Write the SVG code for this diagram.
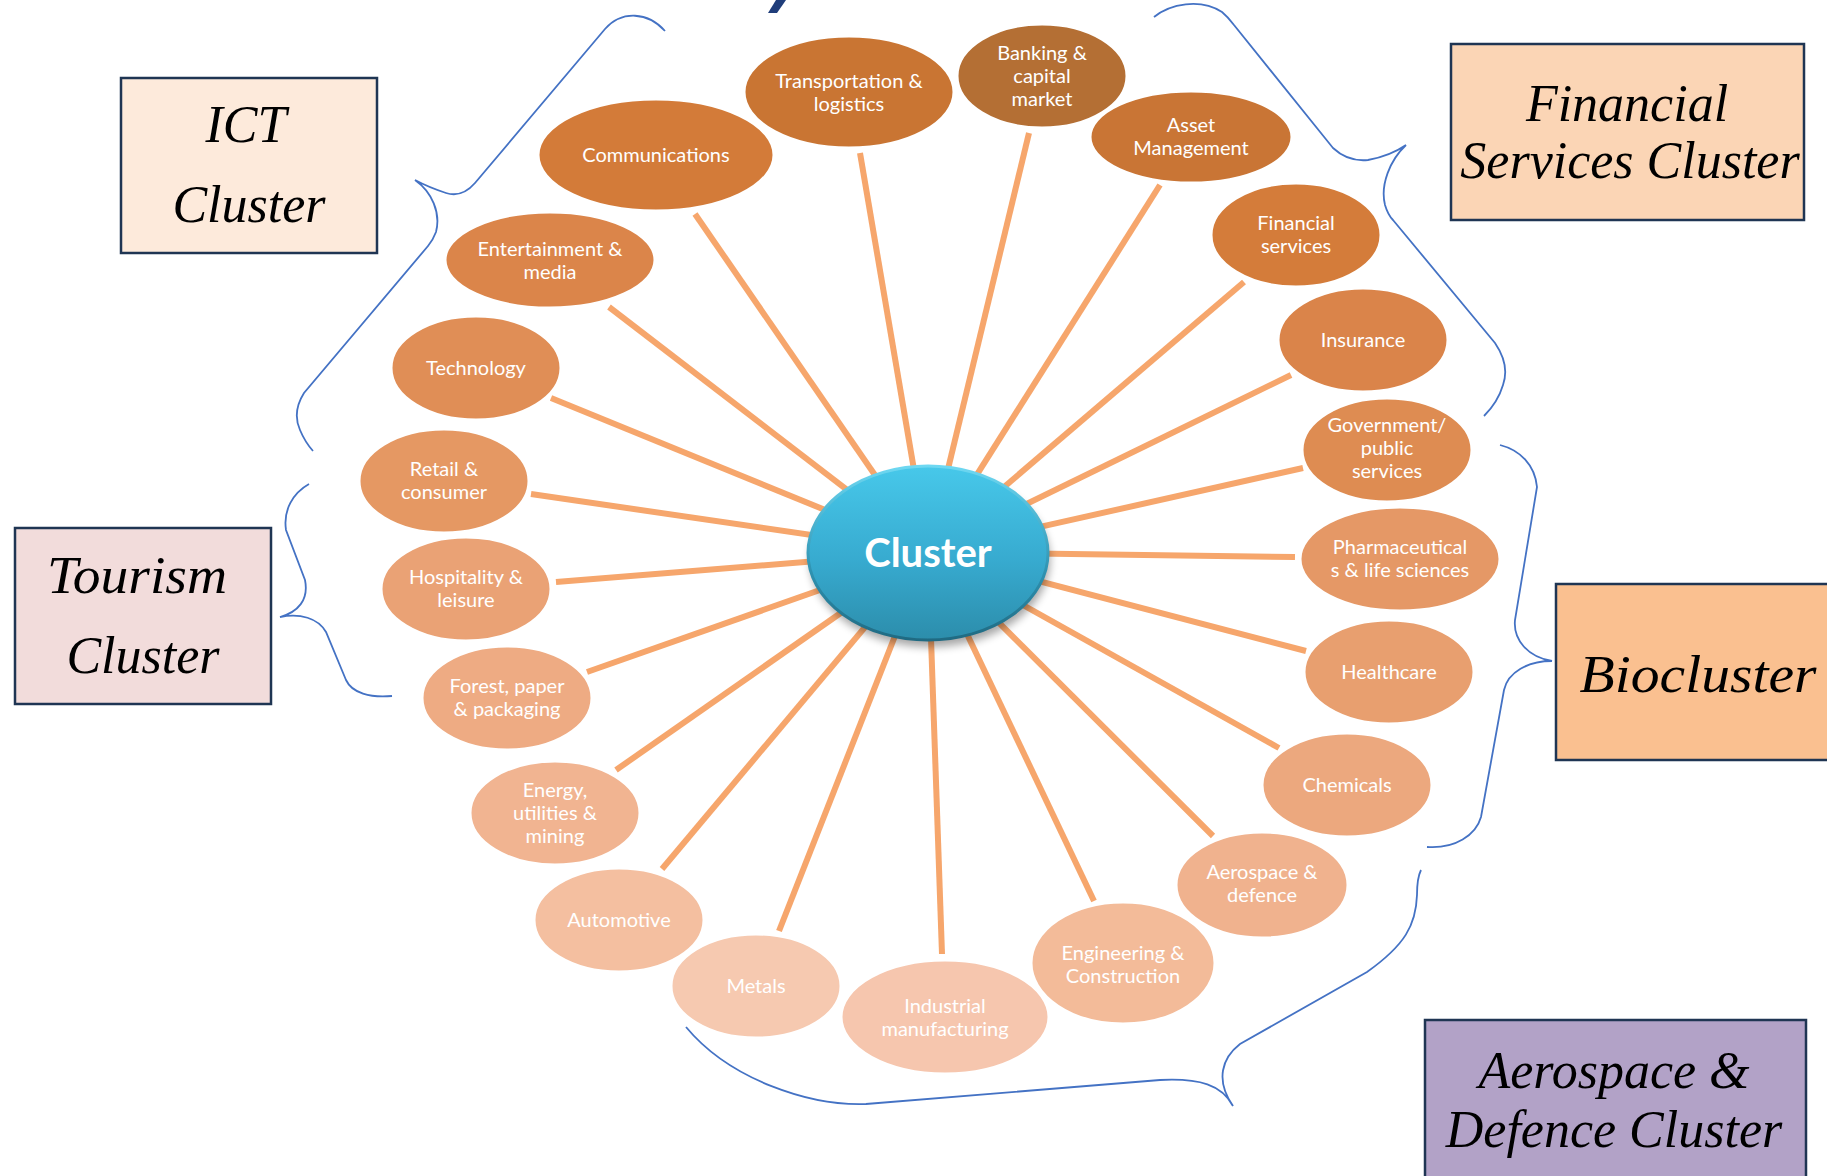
<svg xmlns="http://www.w3.org/2000/svg" width="1827" height="1176" viewBox="0 0 1827 1176">
<defs>
<style>
.lbl{font-family:Lato,"Open Sans","Liberation Sans",sans-serif;font-size:20px;fill:#ffffff;text-anchor:middle}
.node ellipse{stroke:#ffffff;stroke-width:3}
.conn{stroke:#F6A66C;stroke-width:6;stroke-linecap:butt;fill:none}
.brace{fill:none;stroke:#4472C4;stroke-width:1.8}
.box rect{stroke:#1F3553;stroke-width:2.5}
.bt{font-family:"Liberation Serif","Times New Roman",serif;font-style:italic;font-size:52px;fill:#000;text-anchor:middle}
</style>
<linearGradient id="hub" x1="0" y1="0" x2="0" y2="1">
<stop offset="0" stop-color="#47C8EA"/>
<stop offset="0.55" stop-color="#37AACF"/>
<stop offset="1" stop-color="#2C8DAB"/>
</linearGradient>
<linearGradient id="rim" x1="0" y1="0" x2="0" y2="1">
<stop offset="0" stop-color="#6ED8F2"/>
<stop offset="0.6" stop-color="#2F93B2"/>
<stop offset="1" stop-color="#1F6A82"/>
</linearGradient>
<filter id="sh" x="-20%" y="-20%" width="140%" height="150%">
<feGaussianBlur stdDeviation="4"/>
</filter>
</defs>
<rect width="1827" height="1176" fill="#ffffff"/>

<polygon points="768,13 777,13 786,0 776,0" fill="#1F3D7A"/>

<g id="braces">
<path class="brace" d="M 665 31 C 648 12 622 10 605 29 L 475 183 Q 462 198 446 193 Q 428 187 415 180 C 432 192 441 213 436 232 Q 433 240 428 246 L 304 393 Q 292 412 300 430 Q 305 442 313 451"/>
<path class="brace" d="M 1154 17 C 1170 4 1200 -2 1222 12 Q 1228 17 1234 25 L 1333 148 Q 1348 162 1368 160 Q 1390 156 1406 145 C 1390 160 1380 185 1385 205 Q 1388 215 1393 220 L 1495 343 Q 1510 365 1503 385 Q 1498 402 1484 416"/>
<path class="brace" d="M 309 484 C 293 493 283 510 286 530 L 305 580 C 309 600 298 612 280 617 C 300 613 318 618 326 632 L 346 680 C 352 693 370 698 392 696"/>
<path class="brace" d="M 1500 445 C 1520 450 1535 465 1537 487 L 1515 620 C 1513 640 1528 657 1552 661 C 1528 661 1508 672 1504 690 L 1481 817 C 1476 835 1455 849 1427 847"/>
<path class="brace" d="M 1421 870 Q 1417 878 1417 895 C 1416 925 1405 945 1367 972 L 1240 1044 C 1222 1058 1215 1080 1233 1106 C 1222 1085 1200 1078 1160 1080 L 866 1104 C 810 1106 730 1080 686 1027"/>
</g>

<g id="connectors">
<line class="conn" x1="928" y1="552" x2="695" y2="214"/>
<line class="conn" x1="928" y1="552" x2="860" y2="153"/>
<line class="conn" x1="928" y1="552" x2="1029" y2="133"/>
<line class="conn" x1="928" y1="552" x2="1160" y2="185"/>
<line class="conn" x1="928" y1="552" x2="1244" y2="282"/>
<line class="conn" x1="928" y1="552" x2="1291" y2="375"/>
<line class="conn" x1="928" y1="552" x2="1303" y2="468"/>
<line class="conn" x1="928" y1="552" x2="1295" y2="557"/>
<line class="conn" x1="928" y1="552" x2="1306" y2="651"/>
<line class="conn" x1="928" y1="552" x2="1279" y2="748"/>
<line class="conn" x1="928" y1="552" x2="1213" y2="836"/>
<line class="conn" x1="928" y1="552" x2="1094" y2="901"/>
<line class="conn" x1="928" y1="552" x2="942" y2="954"/>
<line class="conn" x1="928" y1="552" x2="779" y2="931"/>
<line class="conn" x1="928" y1="552" x2="662" y2="869"/>
<line class="conn" x1="928" y1="552" x2="616" y2="770"/>
<line class="conn" x1="928" y1="552" x2="587" y2="672"/>
<line class="conn" x1="928" y1="552" x2="556" y2="582"/>
<line class="conn" x1="928" y1="552" x2="531" y2="494"/>
<line class="conn" x1="928" y1="552" x2="551" y2="398"/>
<line class="conn" x1="928" y1="552" x2="609" y2="307"/>
</g>

<g id="hub">
<ellipse cx="930" cy="560" rx="120" ry="87" fill="#000" opacity="0.35" filter="url(#sh)"/>
<ellipse cx="928" cy="553" rx="120" ry="87" fill="url(#hub)" stroke="url(#rim)" stroke-width="3"/>
<text x="928" y="567" font-family="Lato,'Open Sans','Liberation Sans',sans-serif" font-weight="bold" font-size="40" fill="#ffffff" text-anchor="middle">Cluster</text>
</g>

<g id="n-communications" class="node"><ellipse cx="656" cy="155" rx="118" ry="56" fill="#D37B39"/><text class="lbl" x="656" y="162">Communications</text></g>
<g id="n-transportation" class="node"><ellipse cx="849" cy="92" rx="105" ry="56" fill="#C97533"/><text class="lbl" x="849" y="88">Transportation &amp;</text><text class="lbl" x="849" y="111">logistics</text></g>
<g id="n-banking" class="node"><ellipse cx="1042" cy="76" rx="85" ry="52" fill="#B46F34"/><text class="lbl" x="1042" y="60">Banking &amp;</text><text class="lbl" x="1042" y="83">capital</text><text class="lbl" x="1042" y="106">market</text></g>
<g id="n-asset" class="node"><ellipse cx="1191" cy="137" rx="101" ry="46" fill="#C97535"/><text class="lbl" x="1191" y="132">Asset</text><text class="lbl" x="1191" y="155">Management</text></g>
<g id="n-financial" class="node"><ellipse cx="1296" cy="235" rx="85" ry="52" fill="#D47C3A"/><text class="lbl" x="1296" y="230">Financial</text><text class="lbl" x="1296" y="253">services</text></g>
<g id="n-insurance" class="node"><ellipse cx="1363" cy="340" rx="85" ry="52" fill="#DA844A"/><text class="lbl" x="1363" y="347">Insurance</text></g>
<g id="n-government" class="node"><ellipse cx="1387" cy="450" rx="85" ry="52" fill="#DE8C52"/><text class="lbl" x="1387" y="432">Government/</text><text class="lbl" x="1387" y="455">public</text><text class="lbl" x="1387" y="478">services</text></g>
<g id="n-pharma" class="node"><ellipse cx="1400" cy="559" rx="100" ry="52" fill="#E59866"/><text class="lbl" x="1400" y="554">Pharmaceutical</text><text class="lbl" x="1400" y="577">s &amp; life sciences</text></g>
<g id="n-healthcare" class="node"><ellipse cx="1389" cy="672" rx="85" ry="52" fill="#E89F6F"/><text class="lbl" x="1389" y="679">Healthcare</text></g>
<g id="n-chemicals" class="node"><ellipse cx="1347" cy="785" rx="85" ry="52" fill="#ECA87E"/><text class="lbl" x="1347" y="792">Chemicals</text></g>
<g id="n-aerospace" class="node"><ellipse cx="1262" cy="885" rx="86" ry="53" fill="#F0B28E"/><text class="lbl" x="1262" y="879">Aerospace &amp;</text><text class="lbl" x="1262" y="902">defence</text></g>
<g id="n-engineering" class="node"><ellipse cx="1123" cy="963" rx="92" ry="61" fill="#F3BB99"/><text class="lbl" x="1123" y="960">Engineering &amp;</text><text class="lbl" x="1123" y="983">Construction</text></g>
<g id="n-industrial" class="node"><ellipse cx="945" cy="1017" rx="104" ry="57" fill="#F6C6AE"/><text class="lbl" x="945" y="1013">Industrial</text><text class="lbl" x="945" y="1036">manufacturing</text></g>
<g id="n-metals" class="node"><ellipse cx="756" cy="986" rx="85" ry="52" fill="#F6C9B0"/><text class="lbl" x="756" y="993">Metals</text></g>
<g id="n-automotive" class="node"><ellipse cx="619" cy="920" rx="85" ry="52" fill="#F4BFA0"/><text class="lbl" x="619" y="927">Automotive</text></g>
<g id="n-energy" class="node"><ellipse cx="555" cy="813" rx="85" ry="52" fill="#F1B491"/><text class="lbl" x="555" y="797">Energy,</text><text class="lbl" x="555" y="820">utilities &amp;</text><text class="lbl" x="555" y="843">mining</text></g>
<g id="n-forest" class="node"><ellipse cx="507" cy="698" rx="85" ry="52" fill="#EEAB83"/><text class="lbl" x="507" y="693">Forest, paper</text><text class="lbl" x="507" y="716">&amp; packaging</text></g>
<g id="n-hospitality" class="node"><ellipse cx="466" cy="589" rx="85" ry="52" fill="#EAA275"/><text class="lbl" x="466" y="584">Hospitality &amp;</text><text class="lbl" x="466" y="607">leisure</text></g>
<g id="n-retail" class="node"><ellipse cx="444" cy="481" rx="85" ry="52" fill="#E59863"/><text class="lbl" x="444" y="476">Retail &amp;</text><text class="lbl" x="444" y="499">consumer</text></g>
<g id="n-technology" class="node"><ellipse cx="476" cy="368" rx="85" ry="52" fill="#E08E56"/><text class="lbl" x="476" y="375">Technology</text></g>
<g id="n-entertainment" class="node"><ellipse cx="550" cy="260" rx="105" ry="48" fill="#DB854A"/><text class="lbl" x="550" y="256">Entertainment &amp;</text><text class="lbl" x="550" y="279">media</text></g>

<g id="box-ict" class="box"><rect x="121" y="78" width="256" height="175" fill="#FDEADB"/><text class="bt" x="246" y="142">ICT</text><text class="bt" x="249" y="222">Cluster</text></g>
<g id="box-financial" class="box"><rect x="1451" y="44" width="353" height="176" fill="#FBD5B5"/><text class="bt" x="1627" y="121">Financial</text><text class="bt" x="1630" y="178">Services Cluster</text></g>
<g id="box-tourism" class="box"><rect x="15" y="528" width="256" height="176" fill="#F2DCDB"/><text class="bt" x="137" y="593" font-size="54" textLength="180" lengthAdjust="spacingAndGlyphs">Tourism</text><text class="bt" x="143" y="673">Cluster</text></g>
<g id="box-bio" class="box"><rect x="1556" y="584" width="300" height="176" fill="#FAC090"/><text class="bt" x="1698" y="692" font-size="60" textLength="237" lengthAdjust="spacingAndGlyphs">Biocluster</text></g>
<g id="box-aero" class="box"><rect x="1425" y="1020" width="381" height="180" fill="#B2A2C7"/><text class="bt" x="1614" y="1088">Aerospace &amp;</text><text class="bt" x="1614" y="1147">Defence Cluster</text></g>
</svg>
